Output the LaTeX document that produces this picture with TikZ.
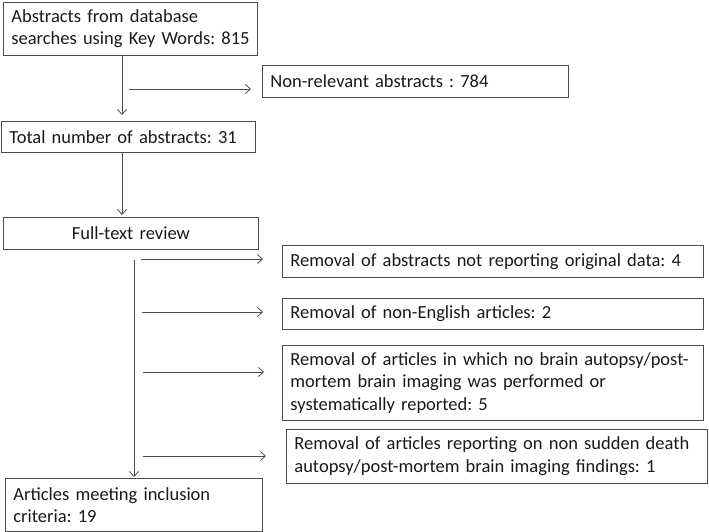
\documentclass[tikz,border=0pt]{standalone}
\usepackage{fontspec}
\setmainfont{Carlito}
\usetikzlibrary{arrows.meta}
\frenchspacing

\begin{document}
\begin{tikzpicture}[x=1pt, y=-1pt,
	box/.style={draw=black!70, line width=0.8pt, anchor=north west, inner xsep=8pt, inner ysep=0pt, align=left, text=black!90, font=\fontsize{18.5}{22.5}\selectfont},
	arr/.style={draw=black!70, line width=0.8pt, -{Straight Barb[length=5pt,width=9pt]}}]
				\useasboundingbox (0,0) rectangle (709,532);
				\node[box, minimum width=254pt, minimum height=53pt, text width=238pt] (A1) at (3,2) {Abstracts from database\\\mbox{searches using Key Words: 815}};
				\node[box, minimum width=306pt, minimum height=32pt, text width=290pt] (N1) at (262,65) {Non-relevant abstracts : 784};
				\node[box, minimum width=254pt, minimum height=31pt, text width=238pt] (T1) at (1,121) {Total number of abstracts: 31};
				\node[box, minimum width=255pt, minimum height=32pt, text width=239pt, align=center] (F1) at (3,217) {Full-text review};
				\node[box, minimum width=421pt, minimum height=32pt, text width=405pt] (R1) at (282,245) {Removal of abstracts not reporting original data: 4};
				\node[box, minimum width=421pt, minimum height=31pt, text width=405pt] (R2) at (282,298) {Removal of non-English articles: 2};
				\node[box, minimum width=421pt, minimum height=75pt, text width=405pt] (R3) at (282,345) {\mbox{Removal of articles in which no brain autopsy/post-}\\mortem brain imaging was performed or\\systematically reported: 5};
				\node[box, minimum width=421pt, minimum height=54pt, text width=405pt] (R4) at (286,429) {\mbox{Removal of articles reporting on non sudden death}\\autopsy/post-mortem brain imaging findings: 1};
				\node[box, minimum width=257pt, minimum height=53pt, text width=241pt] (I1) at (5,478) {Articles meeting inclusion\\criteria: 19};
				
				\coordinate (c1) at (122,0);
				\coordinate (c2) at (134,260);
				\coordinate (s1) at (129,89);
				\coordinate (s2) at (141,259);
				\coordinate (s3) at (142,312);
				\coordinate (s4) at (143,372);
				\coordinate (s5) at (143,456);
				
				\draw[arr, shorten >=6pt] (A1.south -| c1) -- (T1.north -| c1);
				\draw[arr, shorten >=11pt] (s1) -- (s1 -| N1.west);
				\draw[arr, shorten >=2pt] (T1.south -| c1) -- (F1.north -| c1);
				\draw[arr, shorten >=1pt] (c2) -- (c2 |- I1.north);
				\draw[arr, shorten >=19pt] (s2) -- (s2 -| R1.west);
				\draw[arr, shorten >=19pt] (s3) -- (s3 -| R2.west);
				\draw[arr, shorten >=18pt] (s4) -- (s4 -| R3.west);
				\draw[arr, shorten >=20pt] (s5) -- (s5 -| R4.west);
			\end{tikzpicture}
\end{document}
